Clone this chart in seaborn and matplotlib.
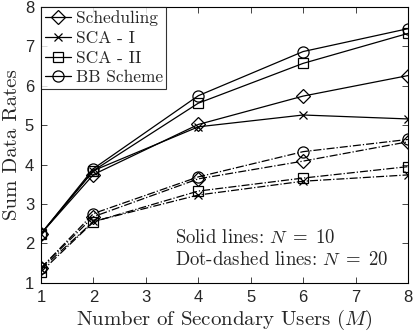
import matplotlib
matplotlib.use("Agg")
import matplotlib.pyplot as plt
import seaborn as sns
import pandas as pd

M = [1, 2, 4, 6, 8]
labels = ["Scheduling", "SCA - I", "SCA - II", "BB Scheme"]
markers = ["D", "x", "s", "o"]
msizes = [7, 6, 6.5, 8]

n10 = {
    "Scheduling": [2.25, 3.75, 5.02, 5.74, 6.26],
    "SCA - I":    [2.25, 3.85, 4.96, 5.26, 5.16],
    "SCA - II":   [2.25, 3.85, 5.56, 6.57, 7.33],
    "BB Scheme":  [2.25, 3.90, 5.75, 6.87, 7.45],
}
n20 = {
    "Scheduling": [1.38, 2.68, 3.64, 4.09, 4.58],
    "SCA - I":    [1.35, 2.56, 3.23, 3.58, 3.74],
    "SCA - II":   [1.28, 2.55, 3.33, 3.66, 3.95],
    "BB Scheme":  [1.38, 2.76, 3.69, 4.33, 4.64],
}

sns.set_style("ticks")
plt.rcParams["mathtext.fontset"] = "cm"
plt.rcParams["font.family"] = ["Liberation Sans", "DejaVu Sans"]

fig = plt.figure(figsize=(4.15, 3.34), dpi=100)
ax = fig.add_axes([0.099, 0.153, 0.884, 0.826])

handles = []
for lab, mk, ms in zip(labels, markers, msizes):
    mew = 0.9
    sns.lineplot(x=M, y=n20[lab], ax=ax, color="k", linestyle="-.", linewidth=0.9,
                 marker=mk, markersize=ms, markerfacecolor="none",
                 markeredgecolor="k", markeredgewidth=mew, legend=False)
    sns.lineplot(x=M, y=n10[lab], ax=ax, color="k", linestyle="-", linewidth=0.9,
                 marker=mk, markersize=ms, markerfacecolor="none",
                 markeredgecolor="k", markeredgewidth=mew, legend=False)
    handles.append(ax.lines[-1])

ax.set_xlim(1, 8)
ax.set_ylim(1, 8)
ax.set_xticks(range(1, 9))
ax.set_yticks(range(1, 9))
ax.tick_params(direction="in", top=True, right=True, labelsize=12, length=4,
               width=0.6, pad=5)
for s in ax.spines.values():
    s.set_linewidth(0.8)
    s.set_color("k")

ax.set_xlabel(r"Number of Secondary Users ($M$)", fontsize=15,
              family="cmr10", labelpad=2)
ax.set_ylabel("Sum Data Rates", fontsize=15, family="cmr10", labelpad=3)

leg = ax.legend(handles, labels, loc="upper left", frameon=True, fancybox=False,
                borderaxespad=0, handlelength=1.5, handletextpad=0.3,
                borderpad=0.2, labelspacing=0.25,
                prop={"family": "cmr10", "size": 12.5})
leg.get_frame().set_edgecolor("k")
leg.get_frame().set_linewidth(0.8)

ax.text(3.56, 2.14, r"Solid lines: $N\;=\;10$", fontsize=13.5, family="cmr10",
        va="center", ha="left")
ax.text(3.56, 1.58, r"Dot-dashed lines: $N\;=\;20$", fontsize=13.5, family="cmr10",
        va="center", ha="left")

fig.savefig("out.png", dpi=100)
